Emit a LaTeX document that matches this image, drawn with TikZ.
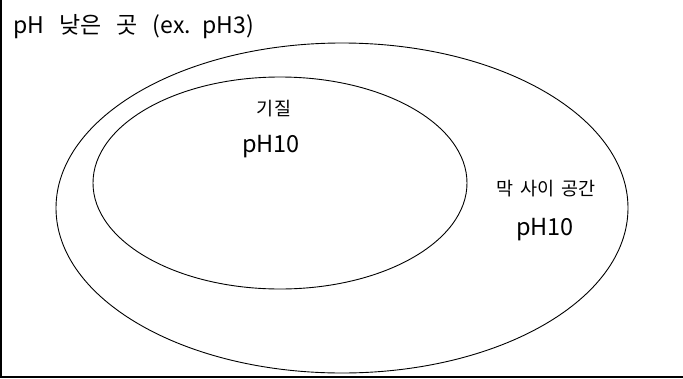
\documentclass[tikz,border=0pt]{standalone}
\usepackage{fontspec}
\setmainfont{Noto Sans CJK KR}
\usetikzlibrary{shapes.geometric}
\begin{document}
\begin{tikzpicture}[x=1pt,y=-1pt,
  membrane/.style={draw=black, line width=0.9pt, ellipse, inner sep=0pt},
  frame/.style={draw=black, line width=2pt},
  lbl/.style={inner sep=0pt, font=\fontsize{18.5}{20}\selectfont},
  ph/.style={inner sep=0pt, font=\fontsize{23.5}{26}\selectfont},
  toplbl/.style={inner sep=0pt, font=\fontsize{23}{25}\selectfont}]
\useasboundingbox (0,0) rectangle (683,378);
\coordinate (tl) at (1,0);
\coordinate (bl) at (1,376.5);
\coordinate (br) at (683,376.5);
\draw[frame] (tl) -- (bl) -- (br);
\node[membrane, minimum width=572pt, minimum height=330pt] (outer) at (342,208) {};
\node[membrane, minimum width=374pt, minimum height=212pt] (inner) at (280,183) {};
\node[toplbl, anchor=base west] (low) at (13,33) {pH\hspace{15pt}낮은\hspace{15pt}곳\hspace{15pt}(ex.\hspace{12pt}pH3)};
\node[lbl, anchor=base] (matrix) at (274,115) {기질};
\node[ph, anchor=base] (phin) at (271,152) {pH10};
\node[lbl, anchor=base] (ims) at (546,195) {막\hspace{7pt}사이\hspace{7pt}공간};
\node[ph, anchor=base] (phout) at (545,235) {pH10};
\end{tikzpicture}
\end{document}
